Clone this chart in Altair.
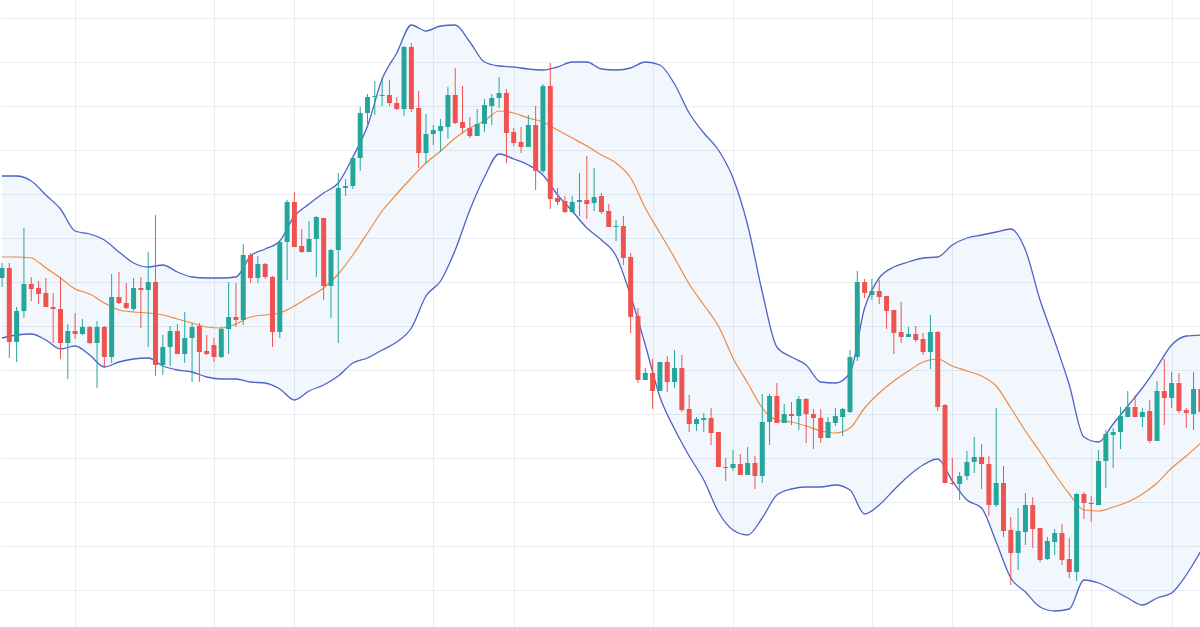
import altair as alt
import pandas as pd

# candle index (one per session)
idx = list(range(165))

opens = [
    722, 732, 658, 689, 716, 712, 707, 693, 691, 657,
    669, 666, 673, 657, 673, 643, 703, 697, 691, 712,
    710, 718, 635, 653, 669, 646, 662, 674, 649, 655,
    643, 671, 683, 680, 745, 722, 736, 723, 668, 758,
    798, 754, 748, 761, 782, 714, 750, 812, 814, 842,
    887, 903, 904, 905, 897, 891, 953, 892, 847, 866,
    869, 873, 905, 878, 872, 864, 876, 894, 902, 907,
    868, 858, 853, 875, 829, 914, 802, 799, 788, 798,
    800, 797, 804, 789, 773, 774, 743, 684, 620, 627,
    609, 638, 618, 632, 591, 576, 580, 582, 568, 533,
    532, 536, 525, 537, 524, 578, 604, 577, 586, 584,
    601, 586, 582, 562, 577, 583, 588, 643, 718, 705,
    709, 704, 690, 668, 663, 666, 661, 648, 668, 595,
    517, 516, 524, 538, 543, 536, 495, 517, 470, 447,
    468, 495, 472, 441, 458, 467, 441, 428, 506, 497,
    495, 539, 565, 568, 583, 593, 583, 589, 559, 609,
    602, 617, 590, 586, 611,
]

highs = [
    737, 737, 693, 772, 723, 719, 722, 707, 723, 676,
    687, 681, 674, 679, 674, 726, 728, 717, 722, 723,
    748, 785, 665, 674, 676, 688, 677, 677, 665, 662,
    673, 718, 717, 756, 747, 744, 737, 724, 758, 800,
    808, 771, 779, 784, 782, 751, 827, 821, 843, 893,
    906, 919, 923, 920, 903, 954, 957, 909, 886, 875,
    881, 913, 932, 914, 883, 891, 901, 906, 923, 911,
    872, 873, 885, 894, 916, 937, 812, 804, 804, 827,
    844, 832, 807, 796, 780, 784, 747, 692, 632, 641,
    638, 644, 650, 645, 605, 583, 587, 592, 568, 542,
    550, 546, 553, 544, 606, 606, 617, 596, 598, 604,
    602, 591, 591, 583, 592, 592, 650, 729, 721, 721,
    720, 704, 690, 698, 673, 674, 667, 685, 669, 596,
    542, 528, 549, 563, 556, 544, 592, 534, 483, 492,
    507, 503, 472, 463, 471, 476, 462, 507, 508, 504,
    550, 570, 572, 593, 609, 605, 592, 600, 619, 641,
    628, 627, 592, 628, 628,
]

lows = [
    713, 642, 638, 682, 699, 696, 693, 657, 641, 621,
    661, 665, 656, 612, 632, 637, 696, 691, 689, 672,
    653, 624, 625, 634, 646, 637, 618, 618, 645, 638,
    642, 646, 673, 675, 717, 717, 721, 653, 662, 720,
    753, 747, 748, 723, 700, 682, 657, 804, 811, 829,
    872, 885, 894, 894, 890, 884, 888, 832, 837, 855,
    848, 861, 876, 866, 862, 864, 868, 875, 892, 837,
    854, 847, 853, 810, 827, 791, 795, 787, 787, 784,
    781, 789, 786, 773, 759, 735, 667, 617, 620, 591,
    609, 608, 612, 588, 568, 569, 568, 555, 533, 519,
    529, 525, 525, 511, 517, 555, 577, 577, 575, 570,
    557, 551, 557, 562, 574, 564, 587, 639, 702, 700,
    696, 671, 646, 657, 663, 658, 645, 631, 589, 517,
    515, 500, 520, 527, 511, 484, 493, 463, 415, 430,
    455, 452, 438, 440, 445, 435, 422, 419, 481, 478,
    495, 512, 532, 551, 583, 583, 573, 557, 559, 575,
    592, 587, 572, 570, 575,
]

closes = [
    732, 658, 689, 716, 711, 706, 693, 691, 657, 669,
    666, 673, 657, 673, 643, 703, 697, 692, 712, 710,
    718, 635, 653, 669, 646, 662, 673, 648, 646, 643,
    671, 683, 680, 745, 722, 736, 723, 668, 758, 798,
    753, 748, 761, 783, 714, 750, 812, 814, 842, 887,
    903, 904, 905, 897, 891, 953, 891, 847, 866, 870,
    874, 905, 877, 872, 864, 876, 895, 902, 907, 867,
    857, 853, 875, 829, 914, 801, 798, 788, 798, 800,
    796, 803, 788, 773, 774, 742, 683, 620, 627, 609,
    638, 618, 632, 590, 576, 581, 582, 567, 533, 532,
    536, 525, 537, 524, 578, 604, 577, 586, 584, 601,
    586, 582, 562, 578, 584, 591, 643, 718, 707, 709,
    703, 689, 667, 663, 666, 660, 648, 668, 593, 517,
    516, 524, 538, 543, 536, 495, 517, 469, 447, 469,
    495, 471, 440, 459, 467, 440, 428, 506, 497, 496,
    539, 566, 568, 584, 593, 583, 588, 559, 609, 602,
    617, 589, 587, 611, 588,
]

# Bollinger band readings (every second session)
band_idx = list(range(0, 165, 2))

upper = [
    824, 824, 819, 805, 791, 769, 766, 760, 748, 737,
    733, 735, 728, 723, 722, 722, 723, 744, 751, 759,
    784, 796, 807, 817, 843, 874, 921, 947, 975, 969,
    974, 975, 958, 938, 934, 933, 931, 930, 933, 938,
    938, 931, 930, 932, 938, 935, 916, 887, 867, 850,
    822, 775, 708, 653, 643, 635, 618, 617, 627, 692,
    722, 733, 738, 742, 743, 755, 762, 765, 768, 771,
    750, 700, 659, 615, 563, 558, 576, 594, 612, 633,
    655, 664, 665,
]

middle = [
    743, 743, 742, 732, 722, 711, 706, 697, 690, 688,
    687, 685, 681, 677, 673, 672, 676, 683, 685, 687,
    694, 703, 712, 726, 745, 767, 789, 806, 822, 837,
    849, 862, 872, 879, 889, 887, 882, 878, 870, 862,
    854, 845, 837, 822, 792, 767, 742, 716, 695, 674,
    642, 617, 592, 580, 578, 574, 569, 567, 572, 592,
    607, 619, 629, 638, 641, 634, 629, 624, 614, 592,
    569, 548, 526, 506, 490, 489, 493, 498, 506, 517,
    532, 544, 557,
]

lower = [
    662, 665, 666, 660, 651, 654, 645, 633, 638, 641,
    642, 634, 630, 628, 623, 621, 621, 618, 617, 611,
    600, 609, 615, 624, 637, 642, 650, 658, 672, 704,
    719, 750, 790, 823, 846, 841, 835, 825, 805, 789,
    772, 760, 744, 704, 655, 603, 571, 544, 520, 488,
    470, 465, 482, 505, 511, 513, 513, 515, 510, 486,
    495, 510, 524, 535, 541, 519, 500, 492, 458, 422,
    408, 393, 389, 391, 420, 417, 410, 402, 395, 402,
    407, 425, 449,
]

grid_x = [10, 29, 40, 59, 70, 89, 100, 119, 130, 149, 160]
grid_y = [982, 938, 894, 850, 806, 762, 718, 674, 630, 586, 542, 498, 454, 410]

candles = pd.DataFrame({"i": idx, "open": opens, "high": highs, "low": lows, "close": closes})
candles["dir"] = ["up" if c > o else "down" for o, c in zip(opens, closes)]
bands = pd.DataFrame({"i": band_idx, "upper": upper, "middle": middle, "lower": lower})

xs = alt.Scale(domain=[-0.274, 163.88], nice=False, zero=False)
ys = alt.Scale(domain=[373, 1000], nice=False, zero=False)
xa = alt.Axis(values=grid_x, grid=True, labels=False, ticks=False, domain=False,
              title=None, gridColor="#e9ecf0", gridWidth=1)
ya = alt.Axis(values=grid_y, grid=True, labels=False, ticks=False, domain=False,
              title=None, gridColor="#e9ecf0", gridWidth=1)

X = alt.X("i:Q", scale=xs, axis=xa)
col = alt.Color("dir:N", scale=alt.Scale(domain=["up", "down"], range=["#26a69a", "#ef5350"]), legend=None)

band_fill = alt.Chart(bands).mark_area(color="#4a90e2", opacity=0.07, clip=True,
                                       interpolate="monotone").encode(
    x=X, y=alt.Y("lower:Q", scale=ys, axis=ya), y2="upper:Q")
upper_line = alt.Chart(bands).mark_line(color="#4d63c6", strokeWidth=1.3, clip=True,
                                        interpolate="monotone").encode(
    x=X, y=alt.Y("upper:Q", scale=ys, axis=ya))
lower_line = alt.Chart(bands).mark_line(color="#4d63c6", strokeWidth=1.3, clip=True,
                                        interpolate="monotone").encode(
    x=X, y=alt.Y("lower:Q", scale=ys, axis=ya))
mid_line = alt.Chart(bands).mark_line(color="#f08a3c", strokeWidth=1.2, clip=True,
                                      interpolate="monotone").encode(
    x=X, y=alt.Y("middle:Q", scale=ys, axis=ya))
wicks = alt.Chart(candles).mark_rule(strokeWidth=1, clip=True).encode(
    x=X, y=alt.Y("low:Q", scale=ys, axis=ya), y2="high:Q", color=col)
bodies = alt.Chart(candles).mark_rule(strokeWidth=5, clip=True).encode(
    x=X, y=alt.Y("open:Q", scale=ys, axis=ya), y2="close:Q", color=col)

chart = alt.layer(band_fill, upper_line, lower_line, mid_line, wicks, bodies).properties(
    width=1200, height=627, padding=0, autosize="none", background="white"
).configure_view(stroke=None)

chart.save("out.html", embed_options={"renderer": "svg", "actions": False})
